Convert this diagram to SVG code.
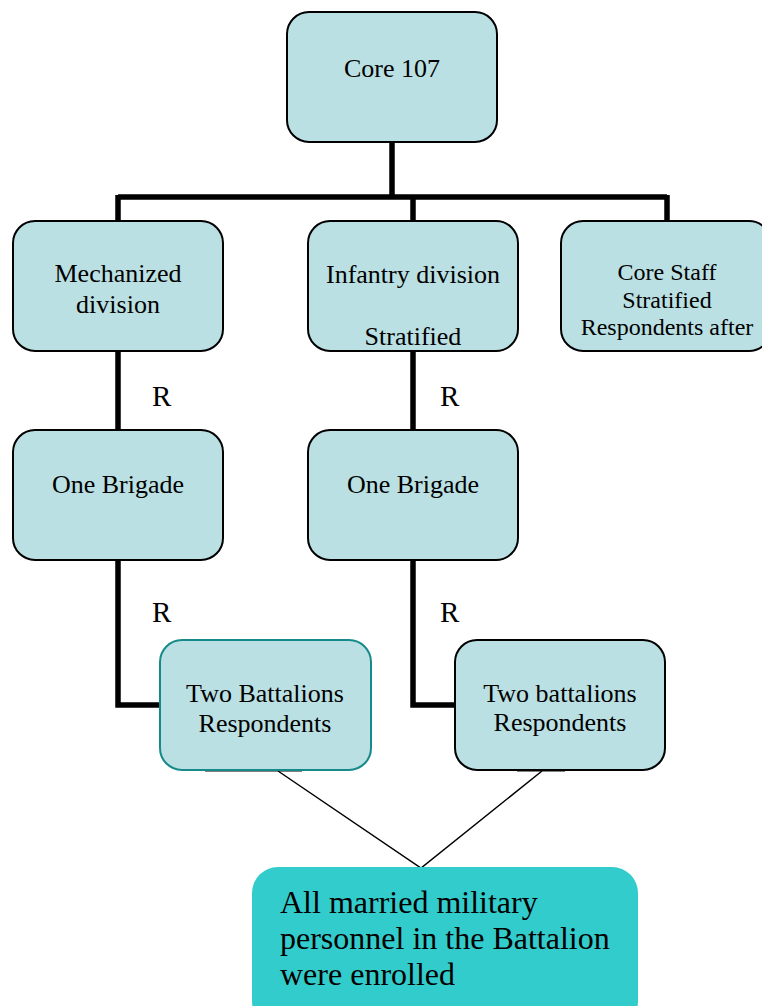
<svg xmlns="http://www.w3.org/2000/svg" width="762" height="1006" viewBox="0 0 762 1006">
<style>
.box{fill:#bae0e3;stroke:#000;stroke-width:2}
.teal{stroke:#168a8a}
.thick{fill:none;stroke:#000;stroke-width:5.5}
.thin{fill:none;stroke:#000;stroke-width:1.5}
</style>
<rect width="762" height="1006" fill="#fff"/>
<g id="connectors">
<path class="thick" d="M392,142 V197 M118,197 H667 M118,195 V221 M413,195 V221 M667,195 V221"/>
<path class="thick" d="M118,351 V430 M413,351 V430"/>
<path class="thick" d="M118,560 V705 H160 M413,560 V705 H455"/>
<path d="M205,770 H302 M517,770 H565" stroke="#000" stroke-width="3"/>
<path class="thin" d="M278,771 L421,868 L542,771"/>
<g font-family="Liberation Serif, Times New Roman, serif" font-size="29">
<text x="152" y="406">R</text>
<text x="440" y="406">R</text>
<text x="152" y="622">R</text>
<text x="440" y="622">R</text>
</g>
</g>
<g font-family="Liberation Serif, Times New Roman, serif" font-size="26" text-anchor="middle">
<g id="core107">
<rect class="box" x="287" y="12" width="210" height="130" rx="22"/>
<text x="392" y="77">Core 107</text>
</g>
<g id="mechanized">
<rect class="box" x="13" y="221" width="210" height="130" rx="22"/>
<text x="118" y="282">Mechanized</text>
<text x="118" y="313">division</text>
</g>
<g id="infantry">
<rect class="box" x="308" y="221" width="210" height="130" rx="22"/>
<text x="413" y="283">Infantry division</text>
<text x="413" y="345">Stratified</text>
</g>
<g id="corestaff" font-size="24">
<rect class="box" x="561" y="221" width="210" height="130" rx="22"/>
<text x="667" y="280">Core Staff</text>
<text x="667" y="308">Stratified</text>
<text x="667" y="335">Respondents after</text>
</g>
<g id="brigade1">
<rect class="box" x="13" y="430" width="210" height="130" rx="22"/>
<text x="118" y="493">One Brigade</text>
</g>
<g id="brigade2">
<rect class="box" x="308" y="430" width="210" height="130" rx="22"/>
<text x="413" y="493">One Brigade</text>
</g>
<g id="battalions1">
<rect class="box teal" x="160" y="640" width="211" height="130" rx="22"/>
<text x="265" y="702">Two Battalions</text>
<text x="265" y="732">Respondents</text>
</g>
<g id="battalions2">
<rect class="box" x="455" y="640" width="210" height="130" rx="22"/>
<text x="560" y="702">Two battalions</text>
<text x="560" y="731">Respondents</text>
</g>
</g>
<g id="enrolled" font-family="Liberation Serif, Times New Roman, serif" font-size="32">
<rect x="252" y="867" width="386" height="160" rx="26" fill="#33cccc"/>
<text x="280" y="913">All married military</text>
<text x="280" y="949">personnel in the Battalion</text>
<text x="280" y="985">were enrolled</text>
</g>
</svg>
